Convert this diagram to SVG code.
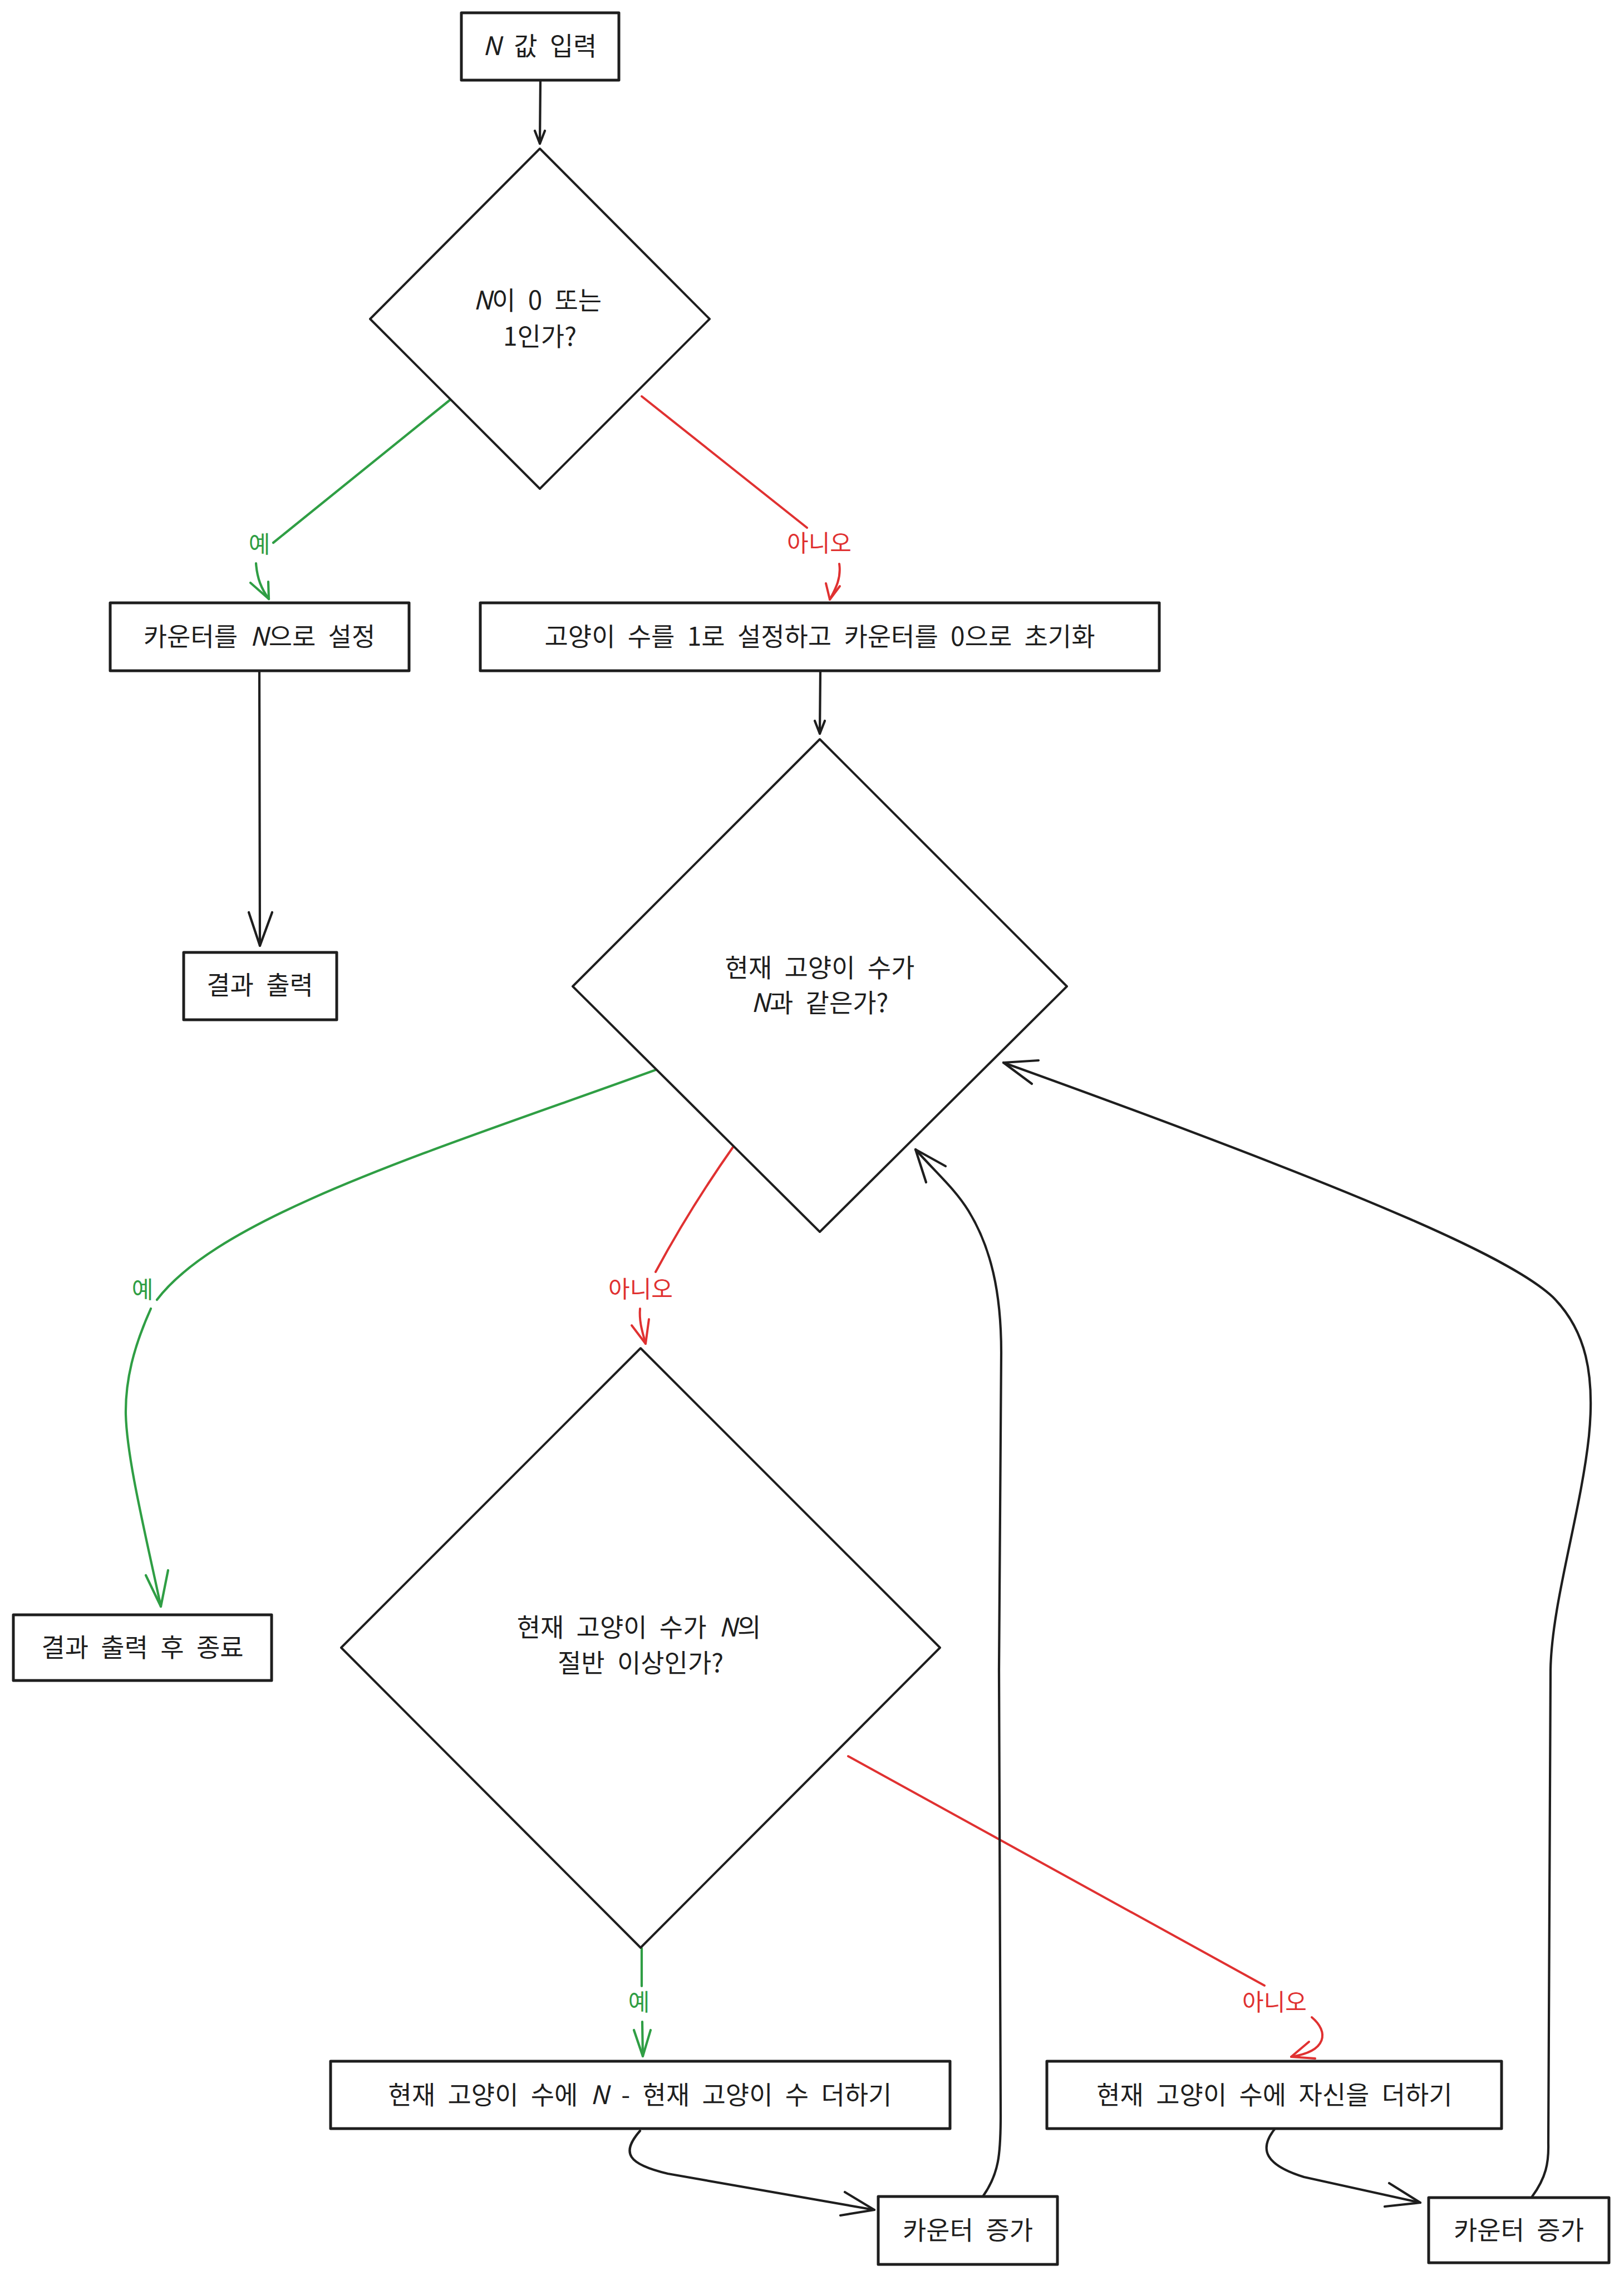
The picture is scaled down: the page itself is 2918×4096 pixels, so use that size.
<svg xmlns="http://www.w3.org/2000/svg" width="2918" height="4096" viewBox="0 0 2918 4096">
<style>
.bg{fill:#ffffff}
.box{fill:#ffffff;stroke:#1e1e1e;stroke-width:5;stroke-linejoin:round}
.dia{fill:#ffffff;stroke:#1e1e1e;stroke-width:4;stroke-linejoin:round}
.t{font-family:"Noto Sans CJK KR","Noto Sans",sans-serif;font-size:46px;fill:#1e1e1e;text-anchor:middle;word-spacing:12px}
.lb{font-family:"Noto Sans CJK KR","Noto Sans",sans-serif;font-size:42px;text-anchor:middle}
.g{fill:#2f9e44}
.r{fill:#e03131}
.it{font-style:italic}
.k{fill:none;stroke:#1e1e1e;stroke-width:4.2;stroke-linecap:round;stroke-linejoin:round}
.gs{fill:none;stroke:#2f9e44;stroke-width:4.2;stroke-linecap:round;stroke-linejoin:round}
.rs{fill:none;stroke:#e03131;stroke-width:4;stroke-linecap:round;stroke-linejoin:round}
</style>
<rect class="bg" x="0" y="0" width="2918" height="4096"/>

<g id="connectors">
  <!-- input -> decision 1 -->
  <path class="k" d="M 971 143 L 970 258"/>
  <path class="k" d="M 961 235 L 970 258 L 979 235"/>
  <!-- decision 1 yes -->
  <path class="gs" d="M 819 710 L 491 975"/>
  <path class="gs" d="M 460 1012 C 462 1040 470 1058 483 1076"/>
  <path class="gs" d="M 450 1047 L 483 1076 L 482 1045"/>
  <!-- decision 1 no -->
  <path class="rs" d="M 1153 712 L 1450 948"/>
  <path class="rs" d="M 1508 1013 C 1512 1040 1500 1060 1491 1077"/>
  <path class="rs" d="M 1484 1048 L 1491 1077 L 1509 1053"/>
  <!-- set counter N -> output result -->
  <path class="k" d="M 466 1205 L 467 1699"/>
  <path class="k" d="M 447 1639 L 467 1699 L 489 1639"/>
  <!-- init -> decision 2 -->
  <path class="k" d="M 1474 1205 L 1473 1318"/>
  <path class="k" d="M 1464 1295 L 1473 1318 L 1482 1295"/>
  <!-- decision 2 yes -->
  <path class="gs" d="M 1203 1913 C 800 2060 400 2180 282 2335"/>
  <path class="gs" d="M 271 2351 C 240 2420 225 2480 226 2541 C 228 2620 260 2750 289 2886"/>
  <path class="gs" d="M 262 2830 L 289 2886 L 302 2821"/>
  <!-- decision 2 no -->
  <path class="rs" d="M 1319 2058 Q 1240 2170 1178 2285"/>
  <path class="rs" d="M 1150 2351 C 1148 2375 1155 2395 1160 2414"/>
  <path class="rs" d="M 1135 2381 L 1160 2414 L 1166 2370"/>
  <!-- decision 3 yes -->
  <path class="gs" d="M 1153 3500 L 1153 3568"/>
  <path class="gs" d="M 1154 3632 L 1155 3694"/>
  <path class="gs" d="M 1139 3647 L 1155 3694 L 1169 3647"/>
  <!-- decision 3 no -->
  <path class="rs" d="M 1524 3155 L 2272 3567"/>
  <path class="rs" d="M 2357 3624 C 2388 3650 2385 3685 2320 3695"/>
  <path class="rs" d="M 2352 3668 L 2320 3695 L 2363 3698"/>
  <!-- add N-current -> counter +1 (left) -->
  <path class="k" d="M 1150 3828 C 1115 3868 1128 3888 1200 3905 L 1571 3970"/>
  <path class="k" d="M 1518 3938 L 1571 3970 L 1510 3980"/>
  <!-- add self -> counter +1 (right) -->
  <path class="k" d="M 2291 3824 C 2260 3862 2275 3890 2343 3911 L 2552 3957"/>
  <path class="k" d="M 2496 3922 L 2552 3957 L 2488 3964"/>
  <!-- loop back left -->
  <path class="k" d="M 1766 3946 C 1795 3905 1798 3870 1798 3800 L 1795 3000 L 1799 2430 C 1799 2320 1780 2240 1740 2175 C 1715 2135 1685 2110 1645 2065"/>
  <path class="k" d="M 1699 2095 L 1645 2065 L 1664 2124"/>
  <!-- loop back right -->
  <path class="k" d="M 2753 3946 C 2778 3912 2783 3885 2782 3850 L 2786 3000 C 2788 2880 2840 2720 2855 2580 C 2866 2470 2850 2390 2790 2330 C 2720 2265 2500 2160 1803 1909"/>
  <path class="k" d="M 1866 1905 L 1803 1909 L 1854 1947"/>
  <!-- labels -->
  <text class="lb g" x="466" y="993">예</text>
  <text class="lb r" x="1472" y="991">아니오</text>
  <text class="lb g" x="256" y="2332">예</text>
  <text class="lb r" x="1151" y="2331">아니오</text>
  <text class="lb g" x="1148" y="3612">예</text>
  <text class="lb r" x="2290" y="3612">아니오</text>
</g>

<g id="n1">
  <rect class="box" x="829" y="23" width="283" height="121"/>
  <text class="t" x="970" y="99"><tspan class="it">N</tspan> 값 입력</text>
</g>
<g id="n2">
  <polygon class="dia" points="970,267 1275,573 970,878 665,573"/>
  <text class="t" x="966" y="556"><tspan class="it">N</tspan>이 0 또는</text>
  <text class="t" x="970" y="621">1인가?</text>
</g>
<g id="n3">
  <rect class="box" x="198" y="1083" width="537" height="122"/>
  <text class="t" x="466" y="1160">카운터를 <tspan class="it">N</tspan>으로 설정</text>
</g>
<g id="n4">
  <rect class="box" x="863" y="1083" width="1220" height="122"/>
  <text class="t" x="1473" y="1160">고양이 수를 1로 설정하고 카운터를 0으로 초기화</text>
</g>
<g id="n5">
  <rect class="box" x="330" y="1711" width="275" height="121"/>
  <text class="t" x="467" y="1786">결과 출력</text>
</g>
<g id="n6">
  <polygon class="dia" points="1473,1328 1917,1772 1473,2213 1029,1772"/>
  <text class="t" x="1473" y="1755">현재 고양이 수가</text>
  <text class="t" x="1473" y="1818"><tspan class="it">N</tspan>과 같은가?</text>
</g>
<g id="n7">
  <rect class="box" x="24" y="2901" width="464" height="118"/>
  <text class="t" x="256" y="2976">결과 출력 후 종료</text>
</g>
<g id="n8">
  <polygon class="dia" points="1151,2422 1689,2960 1151,3499 613,2960"/>
  <text class="t" x="1148" y="2940">현재 고양이 수가 <tspan class="it">N</tspan>의</text>
  <text class="t" x="1151" y="3004">절반 이상인가?</text>
</g>
<g id="n9">
  <rect class="box" x="594" y="3703" width="1113" height="121"/>
  <text class="t" x="1150" y="3780">현재 고양이 수에 <tspan class="it">N</tspan> - 현재 고양이 수 더하기</text>
</g>
<g id="n10">
  <rect class="box" x="1881" y="3703" width="817" height="121"/>
  <text class="t" x="2290" y="3780">현재 고양이 수에 자신을 더하기</text>
</g>
<g id="n11">
  <rect class="box" x="1578" y="3946" width="322" height="122"/>
  <text class="t" x="1739" y="4023">카운터 증가</text>
</g>
<g id="n12">
  <rect class="box" x="2567" y="3948" width="324" height="117"/>
  <text class="t" x="2729" y="4023">카운터 증가</text>
</g>
</svg>
